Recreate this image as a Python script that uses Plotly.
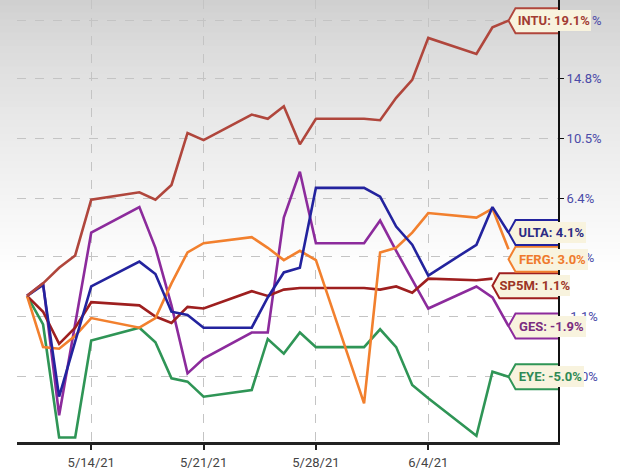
import numpy as np
import plotly.graph_objects as go

# trading days shown on the chart
dates = ["2021-05-10", "2021-05-11", "2021-05-12", "2021-05-13", "2021-05-14",
         "2021-05-17", "2021-05-18", "2021-05-19", "2021-05-20", "2021-05-21",
         "2021-05-24", "2021-05-25", "2021-05-26", "2021-05-27", "2021-05-28",
         "2021-05-31", "2021-06-01", "2021-06-02", "2021-06-03", "2021-06-04",
         "2021-06-07", "2021-06-08", "2021-06-09"]

# % change since 5/10/21
intu = [0, 0.8, 1.8, 2.6, 6.3, 6.8, 6.3, 7.3, 10.9, 10.4, 12.2, 11.9, 12.8, 10.1,
        11.9, 11.9, 11.8, 13.4, 14.7, 17.8, 16.6, 18.6, 19.1]
ulta = [0, 0.7, -6.2, -2.9, 0.6, 2.2, 1.4, -1.0, -1.2, -2.0, -2.0, -0.1, 1.5, 1.8,
        7.1, 7.1, 6.5, 4.5, 3.3, 1.3, 3.3, 5.8, 4.1]
ferg = [0, -3.2, -3.3, -2.5, -1.4, -2.0, -1.4, 0.8, 2.8, 3.4, 3.8, 3.1, 2.3, 2.9,
        2.3, -6.6, 2.8, 3.1, 4.1, 5.4, 5.1, 5.7, 3.0]
sp5m = [0, -1.0, -3.0, -2.0, -0.4, -0.6, -1.3, -1.7, -0.7, -0.8, 0.3, 0.0, 0.4, 0.5,
        0.5, 0.5, 0.4, 0.6, 0.2, 1.1, 1.0, 1.1, None]
ges = [0, 0.8, -7.3, -1.8, 4.1, 5.8, 3.1, -0.6, -4.8, -3.9, -2.3, -2.3, 5.1, 8.2,
       3.4, 3.4, 4.9, 2.9, 1.0, -0.8, 0.6, -0.1, -1.9]
eye = [0, -1.8, -8.6, -8.6, -2.8, -2.0, -2.9, -5.1, -5.3, -6.2, -5.8, -2.7, -3.6, -2.3,
       -3.2, -3.2, -2.1, -3.2, -5.5, -6.3, -8.5, -4.7, -5.0]

tickers = ["EYE", "GES", "SP5M", "FERG", "ULTA", "INTU"]
series = [eye, ges, sp5m, ferg, ulta, intu]

x_tick_dates = ["2021-05-14", "2021-05-21", "2021-05-28", "2021-06-04"]
x_tick_labels = ["5/14/21", "5/21/21", "5/28/21", "6/4/21"]
# gridline positions (evenly spaced on the log scale) and their printed labels
y_tick_values = [19.1, 14.8, 10.5, 6.4, 2.5, -1.3, -5.0]
y_tick_labels = ["19.1%", "14.8%", "10.5%", "6.4%", "2.5%", "-1.1%", "-5.0%"]

line_colors = {"INTU": "#b0463c", "ULTA": "#23239e", "FERG": "#f2802e",
               "SP5M": "#9e1f1f", "GES": "#8c2b9c", "EYE": "#2f9556"}
text_colors = {"INTU": "#a23c34", "ULTA": "#2b2b84", "FERG": "#ef7a2c",
               "SP5M": "#9c3526", "GES": "#7a2c80", "EYE": "#2f8a55"}
# label box width and vertical nudge (px, down)
label_w = {"INTU": 84, "ULTA": 79, "FERG": 81, "SP5M": 80, "GES": 79, "EYE": 77}
label_dy = {"INTU": 0, "ULTA": 0, "FERG": 10, "SP5M": 7, "GES": 0, "EYE": 0}

Y_LO, Y_HI = -0.0403, 0.0816
FONT = "Liberation Sans Narrow, Arial Narrow, Roboto, sans-serif"
BOX_FILL = "#f8f3de"

fig = go.Figure()

# grey fade at the top of the chart
n_bands = 40
fade_px, plot_h = 270, 442
for i in range(n_bands):
    t = i / n_bands
    g = int(round(208 + (255 - 208) * (t ** 0.8)))
    y1 = 1 - (fade_px * i / n_bands) / plot_h
    y0 = 1 - (fade_px * (i + 1) / n_bands) / plot_h
    fig.add_shape(type="rect", xref="paper", yref="paper", x0=-0.05, x1=1.2,
                  y0=y0, y1=y1 + 0.002, fillcolor=f"rgb({g},{g},{g})",
                  line_width=0, layer="below")

for name, vals in zip(tickers, series):
    yv = [None if v is None else 1 + v / 100 for v in vals]
    fig.add_trace(go.Scatter(x=dates, y=yv, mode="lines", name=name,
                             line=dict(color=line_colors[name], width=2.6),
                             connectgaps=False))

# end-of-line callouts
for name, vals in zip(tickers, series):
    idx = max(i for i, v in enumerate(vals) if v is not None)
    v = vals[idx]
    frac = (np.log10(1 + v / 100) - Y_LO) / (Y_HI - Y_LO)
    w, dy, h = label_w[name], label_dy[name], 12.5
    path = (f"M0,{-dy} L7,{h - dy} L{w},{h - dy} L{w},{-h - dy} "
            f"L7,{-h - dy} Z")
    fig.add_shape(type="path", path=path, xref="x", yref="paper",
                  xsizemode="pixel", ysizemode="pixel",
                  xanchor=dates[idx], yanchor=frac,
                  fillcolor=BOX_FILL, line=dict(color=line_colors[name], width=2))
    # interior panel sits over the axis labels, like the original callouts
    fig.add_annotation(x=dates[idx], y=frac, xref="x", yref="paper",
                       text=f"<b>{name}: {v:.1f}%</b>", showarrow=False,
                       xanchor="center", yanchor="middle",
                       width=w - 10, height=21, borderpad=0, borderwidth=0,
                       bgcolor=BOX_FILL, align="center",
                       xshift=w / 2 + 3, yshift=-dy,
                       font=dict(family=FONT, size=13, color=text_colors[name]))

fig.update_layout(
    width=620, height=475,
    margin=dict(l=17, r=62, t=0, b=33),
    paper_bgcolor="white",
    plot_bgcolor="rgba(0,0,0,0)",
    showlegend=False,
    xaxis=dict(
        type="date",
        range=["2021-05-09 09:00", "2021-06-12 02:00"],
        tickvals=x_tick_dates, ticktext=x_tick_labels,
        showgrid=True, gridcolor="#c4c4c4", griddash="dash", gridwidth=1,
        showline=True, linecolor="#222222", linewidth=3,
        ticks="outside", ticklen=5, tickwidth=2, tickcolor="#222222",
        tickfont=dict(family=FONT, size=13, color="#444444"),
        ticklabelstandoff=1,
        zeroline=False,
    ),
    yaxis=dict(
        type="log",
        range=[Y_LO, Y_HI],
        side="right",
        tickvals=[1 + v / 100 for v in y_tick_values], ticktext=y_tick_labels,
        showgrid=True, gridcolor="#c4c4c4", griddash="dash", gridwidth=1,
        showline=True, linecolor="#111111", linewidth=2,
        ticks="outside", ticklen=4, tickwidth=1, tickcolor="#111111",
        tickfont=dict(family=FONT, size=13, color="#4a4aa8"),
        zeroline=False,
    ),
)

fig.write_html("out.html", config={"displayModeBar": False},
               post_script="document.body.style.margin='0';")
